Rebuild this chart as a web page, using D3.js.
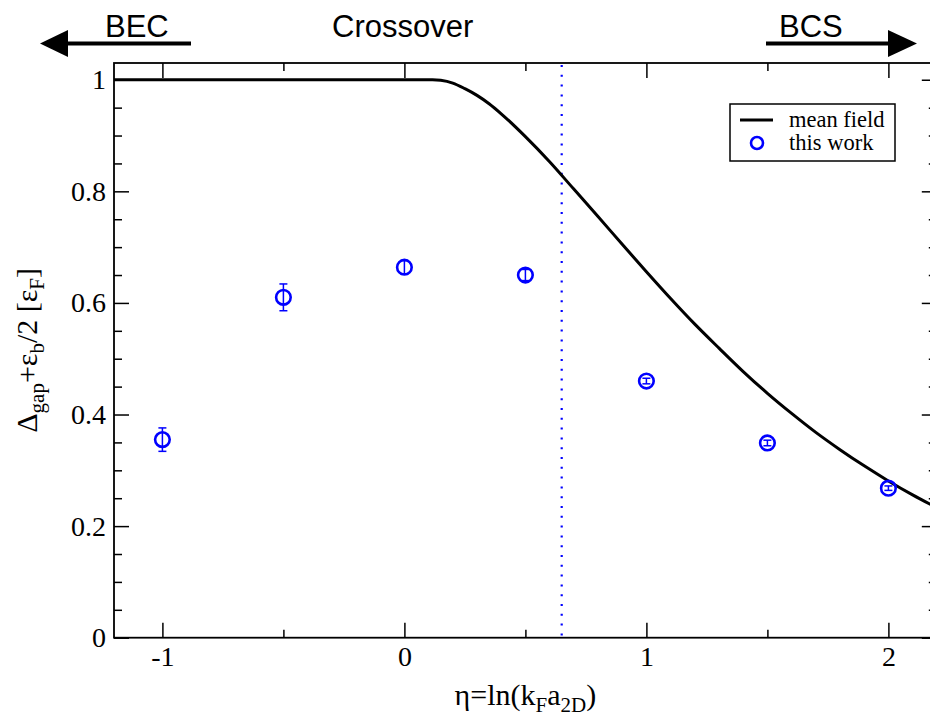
<!DOCTYPE html>
<html>
<head>
<meta charset="utf-8">
<script src="https://cdn.jsdelivr.net/npm/d3@7"></script>
<style>
  html, body { margin: 0; padding: 0; background: #fff; }
  svg { display: block; }
</style>
</head>
<body>
<div id="chart"></div>
<script>
// ---- data ----
const xMajorTicks = [-1, 0, 1, 2];
const xMinorTicks = [-0.5, 0.5, 1.5];
const yMajorTicks = [0, 0.2, 0.4, 0.6, 0.8, 1];
const yTickLabels = ["0", "0.2", "0.4", "0.6", "0.8", "1"];
const yMinorTicks = [0.05, 0.1, 0.15, 0.25, 0.3, 0.35, 0.45, 0.5, 0.55, 0.65, 0.7, 0.75, 0.85, 0.9, 0.95];

// mean field curve
const mfEta = [-1.2, 0.116, 0.15, 0.2, 0.25, 0.3, 0.35, 0.4, 0.5, 0.6, 0.7, 0.8, 0.9, 1.0, 1.1, 1.2, 1.3, 1.4, 1.5, 1.6, 1.7, 1.8, 1.9, 2.0, 2.1, 2.2];
const mfVal = [1, 1, 0.999, 0.994, 0.984, 0.972, 0.957, 0.939, 0.898, 0.853, 0.804, 0.755, 0.705, 0.656, 0.608, 0.562, 0.519, 0.477, 0.438, 0.402, 0.368, 0.337, 0.308, 0.281, 0.256, 0.233];

// this work data points
const ptEta = [-1, -0.5, 0, 0.5, 1, 1.5, 2];
const ptVal = [0.355, 0.610, 0.664, 0.650, 0.460, 0.349, 0.268];
const ptErr = [0.021, 0.024, 0.012, 0.010, 0.005, 0.005, 0.004];

// vertical marker
const markerEta = 0.65;

const legendLabels = ["mean field", "this work"];
const topLabels = ["BEC", "Crossover", "BCS"];

// ---- layout ----
const W = 930, H = 720;
const mLeft = 114, mTop = 63, mBottom = 637.7;
const x = d3.scaleLinear().domain([-1.2, 2.2]).range([mLeft, mLeft + 3.4 * 242]);
const y = d3.scaleLinear().domain([0, 1.03]).range([mBottom, mTop]);
const mRight = x(2.2);

const svg = d3.select("#chart").append("svg").attr("width", W).attr("height", H);
const serif = "'Liberation Serif', 'Times New Roman', serif";
const sans = "'Liberation Sans', Arial, sans-serif";

// axes
function styleAxis(g) {
  g.selectAll(".domain").remove();
  g.selectAll(".tick line").attr("stroke", "#000").attr("stroke-width", 1.5);
  g.selectAll("text").attr("font-family", serif).attr("font-size", 28).attr("fill", "#000");
}
const gx = svg.append("g").attr("transform", `translate(0,${mBottom})`)
  .call(d3.axisBottom(x).tickValues(xMajorTicks).tickSize(-15).tickPadding(8).tickFormat(d => String(d)));
styleAxis(gx);
const gxm = svg.append("g").attr("transform", `translate(0,${mBottom})`)
  .call(d3.axisBottom(x).tickValues(xMinorTicks).tickSize(-8).tickFormat(""));
styleAxis(gxm);
const gxt = svg.append("g").attr("transform", `translate(0,${mTop})`)
  .call(d3.axisTop(x).tickValues(xMajorTicks).tickSize(-15).tickFormat(""));
styleAxis(gxt);
const gxtm = svg.append("g").attr("transform", `translate(0,${mTop})`)
  .call(d3.axisTop(x).tickValues(xMinorTicks).tickSize(-8).tickFormat(""));
styleAxis(gxtm);

const gy = svg.append("g").attr("transform", `translate(${mLeft},0)`)
  .call(d3.axisLeft(y).tickValues(yMajorTicks).tickSize(-15).tickPadding(8)
    .tickFormat((d, i) => yTickLabels[i]));
styleAxis(gy);
const gym = svg.append("g").attr("transform", `translate(${mLeft},0)`)
  .call(d3.axisLeft(y).tickValues(yMinorTicks).tickSize(-8).tickFormat(""));
styleAxis(gym);
const gyr = svg.append("g").attr("transform", `translate(${mRight},0)`)
  .call(d3.axisRight(y).tickValues(yMajorTicks).tickSize(-15).tickFormat(""));
styleAxis(gyr);
const gyrm = svg.append("g").attr("transform", `translate(${mRight},0)`)
  .call(d3.axisRight(y).tickValues(yMinorTicks).tickSize(-8).tickFormat(""));
styleAxis(gyrm);

// frame
svg.append("rect").attr("x", mLeft).attr("y", mTop)
  .attr("width", mRight - mLeft).attr("height", mBottom - mTop)
  .attr("fill", "none").attr("stroke", "#000").attr("stroke-width", 1.8);

// dotted vertical marker
svg.append("line")
  .attr("x1", x(markerEta)).attr("x2", x(markerEta))
  .attr("y1", mTop + 2).attr("y2", mBottom)
  .attr("stroke", "#0000ff").attr("stroke-width", 2.2)
  .attr("stroke-dasharray", "2,7.8");

// mean field curve
const mf = mfEta.map((e, i) => [e, mfVal[i]]);
svg.append("path").datum(mf)
  .attr("d", d3.line().x(d => x(d[0])).y(d => y(d[1])).curve(d3.curveMonotoneX))
  .attr("fill", "none").attr("stroke", "#000").attr("stroke-width", 3);

// data points with error bars
const pts = ptEta.map((e, i) => ({ e, v: ptVal[i], err: ptErr[i] }));
const pg = svg.append("g").selectAll("g").data(pts).join("g");
pg.append("line")
  .attr("x1", d => x(d.e)).attr("x2", d => x(d.e))
  .attr("y1", d => y(d.v - d.err)).attr("y2", d => y(d.v + d.err))
  .attr("stroke", "#0000ff").attr("stroke-width", 1.5);
pg.append("line")
  .attr("x1", d => x(d.e) - 4).attr("x2", d => x(d.e) + 4)
  .attr("y1", d => y(d.v + d.err)).attr("y2", d => y(d.v + d.err))
  .attr("stroke", "#0000ff").attr("stroke-width", 1.5);
pg.append("line")
  .attr("x1", d => x(d.e) - 4).attr("x2", d => x(d.e) + 4)
  .attr("y1", d => y(d.v - d.err)).attr("y2", d => y(d.v - d.err))
  .attr("stroke", "#0000ff").attr("stroke-width", 1.5);
pg.append("circle")
  .attr("cx", d => x(d.e)).attr("cy", d => y(d.v)).attr("r", 7.3)
  .attr("fill", "none").attr("stroke", "#0000ff").attr("stroke-width", 2.6);

// legend
const lg = svg.append("g");
lg.append("rect").attr("x", 730).attr("y", 104).attr("width", 165).attr("height", 57)
  .attr("fill", "#fff").attr("stroke", "#000").attr("stroke-width", 1.5);
lg.append("line").attr("x1", 740).attr("x2", 773).attr("y1", 120).attr("y2", 120)
  .attr("stroke", "#000").attr("stroke-width", 3);
lg.append("circle").attr("cx", 757).attr("cy", 143).attr("r", 6)
  .attr("fill", "none").attr("stroke", "#0000ff").attr("stroke-width", 2.6);
lg.selectAll("text").data(legendLabels).join("text")
  .attr("x", 789).attr("y", (d, i) => 127 + i * 23)
  .attr("font-family", serif).attr("font-size", 22.5).attr("fill", "#000")
  .text(d => d);

// axis titles
const xl = svg.append("text").attr("x", (mLeft + mRight) / 2).attr("y", 705)
  .attr("text-anchor", "middle").attr("font-family", serif).attr("font-size", 30);
xl.append("tspan").text("η=ln(k");
xl.append("tspan").attr("font-size", 21).attr("dy", 7).text("F");
xl.append("tspan").attr("dy", -7).text("a");
xl.append("tspan").attr("font-size", 21).attr("dy", 7).text("2D");
xl.append("tspan").attr("dy", -7).text(")");

const yl = svg.append("text").attr("transform", `translate(37,${(mTop + mBottom) / 2}) rotate(-90)`)
  .attr("text-anchor", "middle").attr("font-family", serif).attr("font-size", 30);
yl.append("tspan").text("Δ");
yl.append("tspan").attr("font-size", 21).attr("dy", 7).text("gap");
yl.append("tspan").attr("dy", -7).text("+ε");
yl.append("tspan").attr("font-size", 21).attr("dy", 7).text("b");
yl.append("tspan").attr("dy", -7).text("/2 [ε");
yl.append("tspan").attr("font-size", 21).attr("dy", 7).text("F");
yl.append("tspan").attr("dy", -7).text("]");

// top annotations
const tg = svg.append("g");
tg.append("text").attr("x", 105).attr("y", 37).attr("font-family", sans).attr("font-size", 31).text(topLabels[0]);
tg.append("text").attr("x", 332).attr("y", 37).attr("font-family", sans).attr("font-size", 31).text(topLabels[1]);
tg.append("text").attr("x", 779).attr("y", 37).attr("font-family", sans).attr("font-size", 31).text(topLabels[2]);
tg.append("line").attr("x1", 66).attr("x2", 191).attr("y1", 43.5).attr("y2", 43.5).attr("stroke", "#000").attr("stroke-width", 4);
tg.append("path").attr("d", "M40,43.5 L68,30 L68,57 Z").attr("fill", "#000");
tg.append("line").attr("x1", 766).attr("x2", 890).attr("y1", 43.5).attr("y2", 43.5).attr("stroke", "#000").attr("stroke-width", 4);
tg.append("path").attr("d", "M917,43.5 L888,30 L888,57 Z").attr("fill", "#000");
</script>
</body>
</html>
